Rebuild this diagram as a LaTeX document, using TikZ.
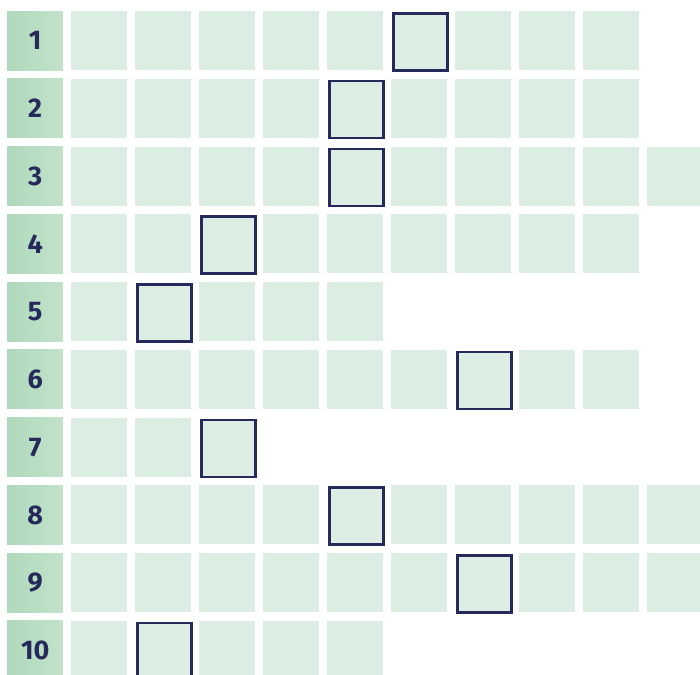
\documentclass[tikz,border=0pt]{standalone}
\usepackage{fontspec}
\setmainfont{Fira Sans}
\usepackage{tikz}
\usetikzlibrary{positioning}

\definecolor{labeldark}{HTML}{AFD9BC}
\definecolor{labellight}{HTML}{C2E2CA}
\definecolor{cellfill}{HTML}{DCEDE4}
\definecolor{inkblue}{HTML}{262A5A}

\tikzset{
  rowlabel/.style={anchor=north west, inner sep=0pt,
    minimum width=56pt, minimum height=59pt,
    left color=labeldark, right color=labellight,
    text=inkblue, font=\bfseries\fontsize{27}{27}\selectfont},
  cellbox/.style={anchor=north west, inner sep=0pt,
    minimum width=56pt, minimum height=59pt, fill=cellfill},
  markbox/.style={cellbox, draw=inkblue, line width=2.6pt,
    minimum width=54pt, minimum height=57pt, xshift=1pt, yshift=-1pt}
}

\begin{document}
\begin{tikzpicture}[x=1pt,y=-1pt]
  \useasboundingbox (0,0) rectangle (700,674);
  \clip (0,0) rectangle (700,674);
  % cells per row / marked cell
  \foreach \n/\m [count=\r] in {9/6,9/5,10/5,9/3,5/2,9/7,3/3,10/5,10/7,5/2} {
    \node[rowlabel] (lab\r) at (7,{11+67.75*(\r-1)}) {\r};
    \foreach \c in {1,...,\n} {
      \ifnum\c=\m \def\boxstyle{markbox}\else\def\boxstyle{cellbox}\fi
      \node[\boxstyle] (cell\r-\c) at ({7+64*\c},{11+67.75*(\r-1)}) {};
    }
  }
\end{tikzpicture}
\end{document}
